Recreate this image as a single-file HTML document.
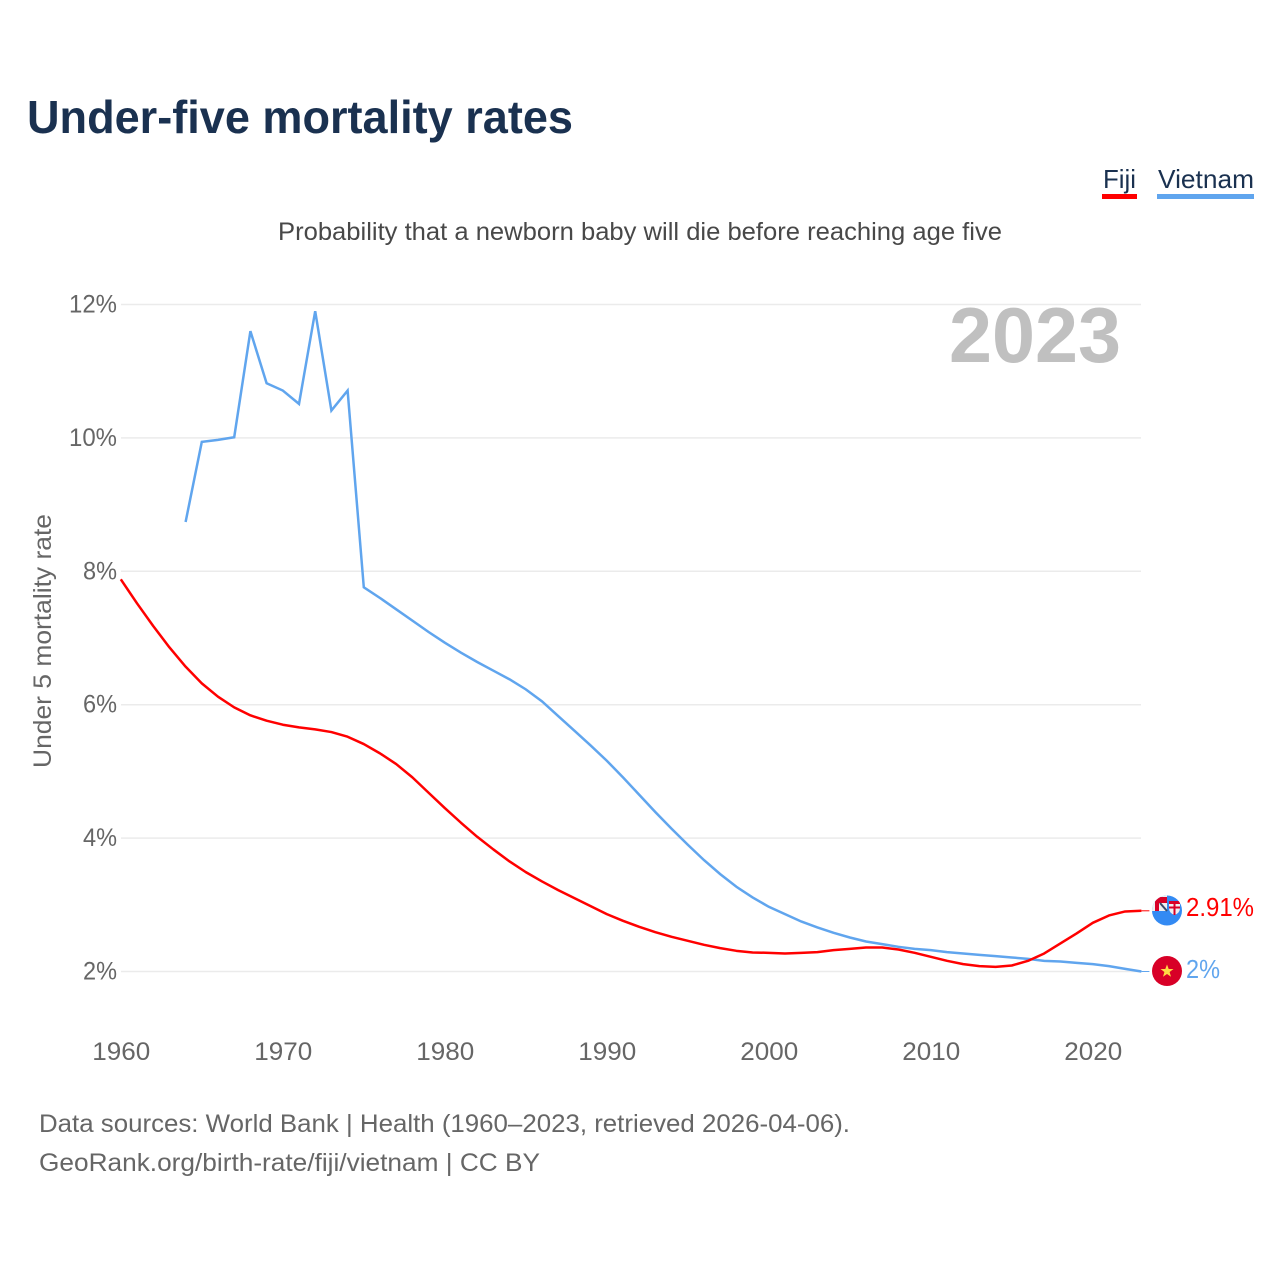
<!DOCTYPE html>
<html lang="en">
<head>
<meta charset="utf-8">
<title>Under-five mortality rates</title>
<style>
html,body{margin:0;padding:0;background:#fff;width:1280px;height:1280px;overflow:hidden}
svg{display:block}
text{font-family:"Liberation Sans",sans-serif}
</style>
</head>
<body>
<svg id="chart" xmlns="http://www.w3.org/2000/svg" width="1280" height="1280" viewBox="0 0 1280 1280">
  <rect x="0" y="0" width="1280" height="1280" fill="#ffffff"/>
  <text x="27" y="133" font-size="46" font-weight="700" fill="#1a3150" textLength="546" lengthAdjust="spacingAndGlyphs">Under-five mortality rates</text>

  <g>
    <text x="1103" y="188" font-size="26" fill="#1a3150" textLength="33" lengthAdjust="spacingAndGlyphs">Fiji</text>
    <rect x="1102" y="194" width="35" height="5" fill="#ff0000"/>
  </g>
  <g>
    <text x="1158" y="188" font-size="26" fill="#1a3150" textLength="96" lengthAdjust="spacingAndGlyphs">Vietnam</text>
    <rect x="1157" y="194" width="97" height="5" fill="#60a5ee"/>
  </g>

  <text x="278" y="240" font-size="25" fill="#484848" textLength="724" lengthAdjust="spacingAndGlyphs">Probability that a newborn baby will die before reaching age five</text>

  <g id="grid"></g>
  <g id="yticks"></g>
  <g id="xticks"></g>

  <text x="949" y="362" font-size="78" font-weight="700" fill="#c0c0c0" textLength="172" lengthAdjust="spacingAndGlyphs">2023</text>

  <text transform="translate(51 768) rotate(-90)" x="0" y="0" font-size="25" fill="#666666" textLength="254" lengthAdjust="spacingAndGlyphs">Under 5 mortality rate</text>

  <g id="series"></g>

  <defs>
    <clipPath id="fiji-clip"><circle cx="1167" cy="910.5" r="15"/></clipPath>
    <clipPath id="vn-clip"><circle cx="1167" cy="971" r="15"/></clipPath>
  </defs>

  <g clip-path="url(#fiji-clip)">
    <rect x="1152" y="895" width="30" height="31" fill="#338af3"/>
    <rect x="1152" y="895" width="15" height="16" fill="#f0f0f0"/>
    <rect x="1155" y="897" width="12" height="6" fill="#d80027"/>
    <rect x="1155" y="903" width="4" height="8" fill="#d80027"/>
    <path d="M1160 903 L1167 911" stroke="#3a4a6a" stroke-width="2" fill="none"/>
    <path d="M1169 901 h11 v7 q0 5 -5.5 7 q-5.5 -2 -5.5 -7 z" fill="#f0f0f0"/>
    <rect x="1169" y="901" width="11" height="3" fill="#d80027"/>
    <rect x="1173.5" y="904" width="2" height="11" fill="#d80027"/>
    <rect x="1169" y="906.5" width="11" height="2" fill="#d80027"/>
  </g>
  <g clip-path="url(#vn-clip)">
    <rect x="1152" y="956" width="30" height="30" fill="#d80027"/>
    <polygon points="1167,964.5 1168.7,969 1173.5,969 1169.6,972 1171,976.8 1167,974 1163,976.8 1164.4,972 1160.5,969 1165.3,969" fill="#ffda44"/>
  </g>

  <text id="fiji-value" x="1186" y="916" font-size="26" fill="#ff0000" textLength="68" lengthAdjust="spacingAndGlyphs"></text>
  <text id="vietnam-value" x="1186" y="978" font-size="26" fill="#60a5ee" textLength="34" lengthAdjust="spacingAndGlyphs"></text>

  <text x="39" y="1132" font-size="25" fill="#666666" textLength="811" lengthAdjust="spacingAndGlyphs">Data sources: World Bank | Health (1960–2023, retrieved 2026-04-06).</text>
  <text x="39" y="1171" font-size="25" fill="#666666" textLength="501" lengthAdjust="spacingAndGlyphs">GeoRank.org/birth-rate/fiji/vietnam | CC BY</text>
</svg>
<script>
const years = [1960,1961,1962,1963,1964,1965,1966,1967,1968,1969,1970,1971,1972,1973,1974,1975,1976,1977,1978,1979,1980,1981,1982,1983,1984,1985,1986,1987,1988,1989,1990,1991,1992,1993,1994,1995,1996,1997,1998,1999,2000,2001,2002,2003,2004,2005,2006,2007,2008,2009,2010,2011,2012,2013,2014,2015,2016,2017,2018,2019,2020,2021,2022,2023];
const fijiValues = [7.88,7.52,7.18,6.86,6.57,6.32,6.12,5.96,5.84,5.76,5.70,5.66,5.63,5.59,5.52,5.41,5.27,5.11,4.91,4.68,4.45,4.23,4.02,3.83,3.65,3.49,3.35,3.22,3.10,2.98,2.86,2.76,2.67,2.59,2.52,2.46,2.40,2.35,2.31,2.285,2.28,2.27,2.28,2.29,2.32,2.34,2.36,2.36,2.33,2.28,2.22,2.16,2.11,2.08,2.07,2.09,2.16,2.27,2.42,2.57,2.73,2.84,2.90,2.91];
const vietnamValues = [null,null,null,null,8.74,9.94,9.97,10.01,11.6,10.82,10.71,10.51,11.9,10.41,10.71,7.76,7.60,7.43,7.26,7.09,6.93,6.78,6.64,6.51,6.38,6.23,6.05,5.83,5.61,5.39,5.16,4.91,4.65,4.39,4.14,3.90,3.67,3.46,3.27,3.11,2.97,2.86,2.75,2.66,2.58,2.51,2.45,2.41,2.37,2.34,2.32,2.29,2.27,2.25,2.23,2.21,2.19,2.16,2.15,2.13,2.11,2.08,2.04,2.00];
const yTickValues = [2,4,6,8,10,12];
const xTickValues = [1960,1970,1980,1990,2000,2010,2020];
const fijiEndLabel = "2.91%";
const vietnamEndLabel = "2%";

const NS = "http://www.w3.org/2000/svg";
function xScale(year){ return 120.8 + (year - 1960) * 16.2; }
function yScale(v){ return 971.5 - (v - 2) * 66.7; }

const grid = document.getElementById('grid');
const yticks = document.getElementById('yticks');
const xticks = document.getElementById('xticks');
const series = document.getElementById('series');

yTickValues.forEach(function(v){
  const line = document.createElementNS(NS, 'line');
  
  
  line.setAttribute('x1', 121);
  line.setAttribute('x2', 1141);
  line.setAttribute('y1', yScale(v));
  line.setAttribute('y2', yScale(v));
  line.setAttribute('stroke', '#ebebeb');
  line.setAttribute('stroke-width', '1.5');
  grid.appendChild(line);

  const t = document.createElementNS(NS, 'text');
  
  
  const label = v + '%';
  const w = label.length === 3 ? 48 : 34;
  t.setAttribute('x', 117 - w);
  t.setAttribute('y', yScale(v) + 8);
  t.setAttribute('font-size', '25');
  t.setAttribute('fill', '#666666');
  t.setAttribute('textLength', w);
  t.setAttribute('lengthAdjust', 'spacingAndGlyphs');
  t.textContent = label;
  yticks.appendChild(t);
});

xTickValues.forEach(function(y){
  const t = document.createElementNS(NS, 'text');
  
  
  t.setAttribute('x', xScale(y) - 28.5);
  t.setAttribute('y', 1060);
  t.setAttribute('font-size', '25');
  t.setAttribute('fill', '#666666');
  t.setAttribute('textLength', 58);
  t.setAttribute('lengthAdjust', 'spacingAndGlyphs');
  t.textContent = String(y);
  xticks.appendChild(t);
});

function pathFor(values){
  const pts = [];
  values.forEach(function(v, i){
    if (v !== null) pts.push(xScale(years[i]).toFixed(2) + ',' + yScale(v).toFixed(2));
  });
  return pts.join(' ');
}

const vnLine = document.createElementNS(NS, 'polyline');


vnLine.setAttribute('points', pathFor(vietnamValues));
vnLine.setAttribute('fill', 'none');
vnLine.setAttribute('stroke', '#60a5ee');
vnLine.setAttribute('stroke-width', '2.5');
vnLine.setAttribute('stroke-linejoin', 'miter');
series.appendChild(vnLine);

const fjLine = document.createElementNS(NS, 'polyline');


fjLine.setAttribute('points', pathFor(fijiValues));
fjLine.setAttribute('fill', 'none');
fjLine.setAttribute('stroke', '#ff0000');
fjLine.setAttribute('stroke-width', '2.5');
fjLine.setAttribute('stroke-linejoin', 'round');
series.appendChild(fjLine);

const lastIdx = years.length - 1;
const fjConn = document.createElementNS(NS, 'line');


fjConn.setAttribute('x1', xScale(years[lastIdx]));
fjConn.setAttribute('x2', xScale(years[lastIdx]) + 8);
fjConn.setAttribute('y1', yScale(fijiValues[lastIdx]));
fjConn.setAttribute('y2', yScale(fijiValues[lastIdx]));
fjConn.setAttribute('stroke', '#ff0000');
fjConn.setAttribute('stroke-width', '1');
series.appendChild(fjConn);

const vnConn = document.createElementNS(NS, 'line');


vnConn.setAttribute('x1', xScale(years[lastIdx]));
vnConn.setAttribute('x2', xScale(years[lastIdx]) + 8);
vnConn.setAttribute('y1', yScale(vietnamValues[lastIdx]));
vnConn.setAttribute('y2', yScale(vietnamValues[lastIdx]));
vnConn.setAttribute('stroke', '#60a5ee');
vnConn.setAttribute('stroke-width', '1');
series.appendChild(vnConn);

document.getElementById('fiji-value').textContent = fijiEndLabel;
document.getElementById('vietnam-value').textContent = vietnamEndLabel;
</script>
</body>
</html>
